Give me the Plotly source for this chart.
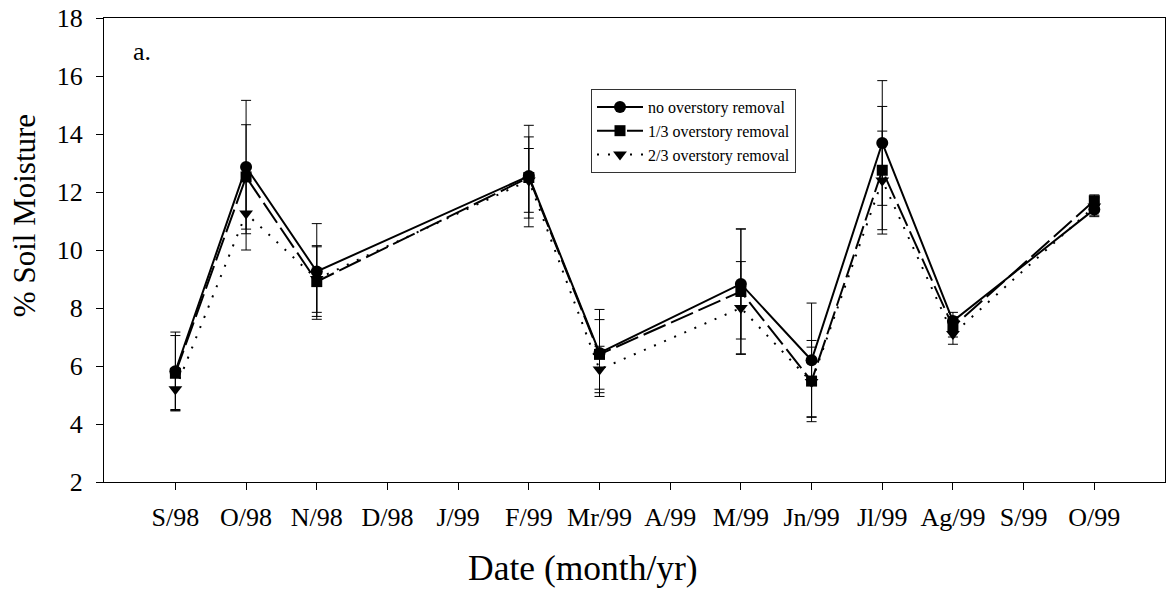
import plotly.graph_objects as go

# Month categories on the x axis (all months, including unsampled ones)
months = ["S/98", "O/98", "N/98", "D/98", "J/99", "F/99", "Mr/99",
          "A/99", "M/99", "Jn/99", "Jl/99", "Ag/99", "S/99", "O/99"]

# Months in which soil moisture was sampled
sampled = ["S/98", "O/98", "N/98", "F/99", "Mr/99",
           "M/99", "Jn/99", "Jl/99", "Ag/99", "O/99"]

# Mean % soil moisture and standard error per treatment
no_removal = [5.82, 12.86, 9.26, 12.55, 6.45, 8.83, 6.20, 13.69, 7.55, 11.40]
no_removal_se = [1.35, 2.30, 1.65, 1.75, 1.50, 1.90, 1.97, 2.15, 0.30, 0.25]

third_removal = [5.75, 12.52, 8.91, 12.50, 6.40, 8.57, 5.48, 12.75, 7.35, 11.70]
third_removal_se = [1.30, 1.80, 1.20, 1.40, 1.20, 2.15, 1.40, 2.20, 0.35, 0.20]

two_third_removal = [5.20, 11.26, 9.00, 12.40, 5.88, 8.00, 5.45, 12.40, 7.10, 11.50]
two_third_removal_se = [0.70, 1.26, 1.15, 1.10, 0.80, 1.60, 1.20, 1.70, 0.35, 0.30]

series = [
    ("no overstory removal", no_removal, no_removal_se, "solid", "circle", 12),
    ("1/3 overstory removal", third_removal, third_removal_se, "24px,6px", "square", 11),
    ("2/3 overstory removal", two_third_removal, two_third_removal_se, "2px,9px", "triangle-down", 12),
]

SERIF = "Liberation Serif, Times New Roman, serif"

fig = go.Figure()
for name, vals, se, dash, symbol, msize in series:
    fig.add_trace(go.Scatter(
        x=sampled, y=vals, name=name, mode="lines+markers",
        line=dict(color="black", width=2, dash=dash),
        marker=dict(symbol=symbol, size=msize, color="black"),
        error_y=dict(type="data", array=se, visible=True,
                     color="black", thickness=1, width=5),
    ))

fig.update_layout(
    width=1166, height=590,
    margin=dict(l=104, r=1, t=18, b=108),
    paper_bgcolor="white", plot_bgcolor="white",
    font=dict(family=SERIF, color="black"),
    showlegend=True,
    legend=dict(
        x=0.459, y=0.847, xanchor="left", yanchor="top",
        bgcolor="white", bordercolor="#333", borderwidth=1,
        font=dict(family=SERIF, size=16, color="black"),
        itemwidth=46,
        tracegroupgap=0,
    ),
    xaxis=dict(
        type="category", categoryorder="array", categoryarray=months,
        range=[-1.01, 14.0],
        showline=True, linecolor="black", linewidth=1, mirror=True,
        ticks="outside", ticklen=7, tickcolor="black",
        showgrid=False, zeroline=False,
        tickfont=dict(family=SERIF, size=26),
        ticklabelstandoff=5,
    ),
    yaxis=dict(
        range=[2, 18], tickvals=[2, 4, 6, 8, 10, 12, 14, 16, 18],
        showline=True, linecolor="black", linewidth=1, mirror=True,
        ticks="outside", ticklen=7, tickcolor="black",
        showgrid=False, zeroline=False,
        tickfont=dict(family=SERIF, size=26),
        ticklabelstandoff=8,
    ),
    annotations=[
        # panel letter
        dict(text="a.", x=0.025, y=0.927, xref="paper", yref="paper",
             xanchor="left", yanchor="middle", showarrow=False,
             font=dict(family=SERIF, size=26, color="black")),
        # x axis title, centred on the figure
        dict(text="Date (month/yr)", x=0.4515, y=-0.185, xref="paper", yref="paper",
             xanchor="center", yanchor="middle", showarrow=False,
             font=dict(family=SERIF, size=35.5, color="black")),
        # y axis title
        dict(text="% Soil Moisture", x=-0.0754, y=0.573, xref="paper", yref="paper",
             xanchor="center", yanchor="middle", textangle=-90, showarrow=False,
             font=dict(family=SERIF, size=31, color="black")),
    ],
)

fig.write_html("out.html")
